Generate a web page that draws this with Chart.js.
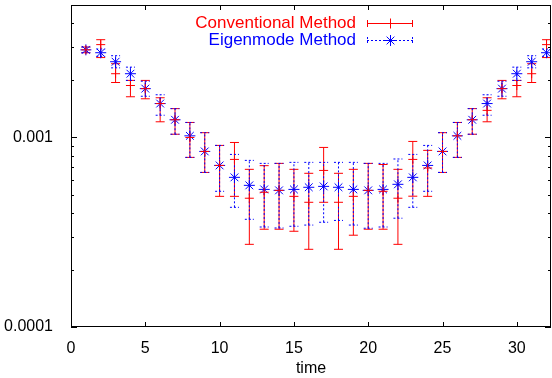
<!DOCTYPE html>
<html>
<head>
<meta charset="utf-8">
<script src="https://cdn.jsdelivr.net/npm/chart.js@4"></script>
<style>
html, body { margin: 0; padding: 0; background: #fff; }
#wrap { width: 552px; height: 378px; }
</style>
</head>
<body>
<div id="wrap"><canvas id="moncanvas"></canvas></div>
<script>
const times = [1,2,3,4,5,6,7,8,9,10,11,12,13,14,15,16,17,18,19,20,21,22,23,24,25,26,27,28,29,30,31,32];

const convVal = [0.00290,0.00309,0.00217,0.00188,0.00181,0.00151,0.00124,0.00100,0.000844,0.000712,0.000766,0.000478,0.000514,0.000526,0.000489,0.000455,0.000670,0.000455,0.000489,0.000526,0.000520,0.000478,0.000766,0.000690,0.000844,0.00102,0.00124,0.00139,0.00181,0.00188,0.00217,0.00309];
const convLo = [0.00280,0.00264,0.00195,0.00164,0.00160,0.00121,0.00104,0.000785,0.000654,0.000489,0.000489,0.000273,0.000328,0.000328,0.000320,0.000257,0.000455,0.000257,0.000305,0.000328,0.000328,0.000273,0.000490,0.000489,0.000654,0.000785,0.00104,0.00121,0.00160,0.00164,0.00195,0.00264];
const convHi = [0.00300,0.00328,0.00245,0.00200,0.00200,0.00162,0.00142,0.00120,0.00106,0.000908,0.000941,0.000679,0.000710,0.000730,0.000679,0.000647,0.000886,0.000647,0.000679,0.000730,0.000720,0.000679,0.000953,0.000855,0.00106,0.00120,0.00142,0.00162,0.00200,0.00200,0.00245,0.00328];

const eigVal = [0.00290,0.00280,0.00251,0.00217,0.00181,0.00151,0.00124,0.00102,0.000844,0.000712,0.000616,0.000559,0.000532,0.000526,0.000532,0.000546,0.000552,0.000546,0.000532,0.000526,0.000532,0.000566,0.000616,0.000712,0.000844,0.00102,0.00124,0.00151,0.00181,0.00217,0.00251,0.00280];
const eigLo = [0.00280,0.00268,0.00233,0.00200,0.00165,0.00131,0.00104,0.000785,0.000654,0.000520,0.000428,0.000370,0.000337,0.000333,0.000340,0.000345,0.000357,0.000365,0.000345,0.000332,0.000337,0.000375,0.000428,0.000520,0.000654,0.000785,0.00104,0.00131,0.00165,0.00200,0.00233,0.00268];
const eigHi = [0.00300,0.00293,0.00270,0.00235,0.00198,0.00168,0.00142,0.00120,0.00106,0.000908,0.000814,0.000757,0.000730,0.000730,0.000739,0.000739,0.000739,0.000739,0.000739,0.000730,0.000730,0.000770,0.000814,0.000908,0.00106,0.00120,0.00142,0.00168,0.00198,0.00235,0.00270,0.00293];

const xTicks = [0,5,10,15,20,25,30];
const yTicks = [0.0001,0.001];
const yMinor = [0.0002,0.0003,0.0004,0.0005,0.0006,0.0007,0.0008,0.0009,0.002,0.003,0.004,0.005];

const labelConv = 'Conventional Method';
const labelEig = 'Eigenmode Method';

const police = '"Liberation Sans", Arial, sans-serif';

function pts(vals) {
    return times.map(function (t, i) { return { x: t, y: vals[i] }; });
}

function noPad(scale) {
    scale.paddingTop = 0;
    scale.paddingBottom = 0;
    scale.paddingLeft = 0;
    scale.paddingRight = 0;
}

// error bars, drawn with the chart's own scales
const errorBars = {
    id: 'errorBars',
    beforeDatasetsDraw(chart) {
        const ctx = chart.ctx;
        const xs = chart.scales.x, ys = chart.scales.y;
        const sets = [
            { lo: convLo, hi: convHi, color: 'rgb(255,0,0)', dash: [] },
            { lo: eigLo, hi: eigHi, color: 'rgb(0,0,255)', dash: [2, 2] }
        ];
        ctx.save();
        ctx.lineWidth = 1;
        for (const s of sets) {
            ctx.strokeStyle = s.color;
            ctx.setLineDash(s.dash);
            for (let i = 0; i < times.length; i++) {
                const px = xs.getPixelForValue(times[i]);
                const p1 = ys.getPixelForValue(s.lo[i]);
                const p2 = ys.getPixelForValue(s.hi[i]);
                ctx.beginPath();
                ctx.moveTo(px, p1); ctx.lineTo(px, p2);
                ctx.moveTo(px - 4.5, p1); ctx.lineTo(px + 4.5, p1);
                ctx.moveTo(px - 4.5, p2); ctx.lineTo(px + 4.5, p2);
                ctx.stroke();
            }
        }
        ctx.restore();
    }
};

// gnuplot style frame with inward ticks, and the key
const cadre = {
    id: 'cadre',
    afterDraw(chart) {
        const ctx = chart.ctx;
        const a = chart.chartArea;
        const xs = chart.scales.x, ys = chart.scales.y;
        ctx.save();
        ctx.strokeStyle = '#000';
        ctx.lineWidth = 1;
        ctx.setLineDash([]);
        ctx.strokeRect(a.left + 0.5, a.top + 0.5, a.right - a.left - 1, a.bottom - a.top - 1);
        ctx.beginPath();
        for (const v of xTicks) {
            const px = Math.round(xs.getPixelForValue(v)) + 0.5;
            ctx.moveTo(px, a.bottom); ctx.lineTo(px, a.bottom - 5);
            ctx.moveTo(px, a.top); ctx.lineTo(px, a.top + 5);
        }
        for (const v of yTicks) {
            const py = Math.round(ys.getPixelForValue(v)) + 0.5;
            ctx.moveTo(a.left, py); ctx.lineTo(a.left + 6, py);
            ctx.moveTo(a.right, py); ctx.lineTo(a.right - 6, py);
        }
        for (const v of yMinor) {
            const py = Math.round(ys.getPixelForValue(v)) + 0.5;
            ctx.moveTo(a.left, py); ctx.lineTo(a.left + 3, py);
            ctx.moveTo(a.right, py); ctx.lineTo(a.right - 3, py);
        }
        ctx.stroke();

        // key
        ctx.font = '17px ' + police;
        ctx.textAlign = 'right';
        ctx.textBaseline = 'middle';
        ctx.fillStyle = 'rgb(255,0,0)';
        ctx.fillText(labelConv, 356, 23);
        ctx.fillStyle = 'rgb(0,0,255)';
        ctx.fillText(labelEig, 356, 40);

        ctx.strokeStyle = 'rgb(255,0,0)';
        ctx.beginPath();
        ctx.moveTo(367, 23.5); ctx.lineTo(413, 23.5);
        ctx.moveTo(367.5, 20); ctx.lineTo(367.5, 27);
        ctx.moveTo(412.5, 20); ctx.lineTo(412.5, 27);
        ctx.moveTo(390.5, 18.5); ctx.lineTo(390.5, 28.5);
        ctx.stroke();

        ctx.strokeStyle = 'rgb(0,0,255)';
        ctx.setLineDash([2, 2]);
        ctx.beginPath();
        ctx.moveTo(367, 40.5); ctx.lineTo(413, 40.5);
        ctx.moveTo(367.5, 37); ctx.lineTo(367.5, 44);
        ctx.moveTo(412.5, 37); ctx.lineTo(412.5, 44);
        ctx.stroke();
        ctx.setLineDash([]);
        ctx.beginPath();
        const r = 5.5;
        ctx.moveTo(390.5 - r, 40.5); ctx.lineTo(390.5 + r, 40.5);
        ctx.moveTo(390.5, 40.5 - r); ctx.lineTo(390.5, 40.5 + r);
        const d = r * Math.SQRT1_2;
        ctx.moveTo(390.5 - d, 40.5 - d); ctx.lineTo(390.5 + d, 40.5 + d);
        ctx.moveTo(390.5 - d, 40.5 + d); ctx.lineTo(390.5 + d, 40.5 - d);
        ctx.stroke();
        ctx.restore();
    }
};

const data = {
    datasets: [{
        label: labelConv,
        data: pts(convVal),
        showLine: false,
        pointStyle: 'cross',
        pointRadius: 4.5,
        pointHoverRadius: 4.5,
        borderColor: 'rgb(255,0,0)',
        backgroundColor: 'rgb(255,0,0)',
        borderWidth: 1
    }, {
        label: labelEig,
        data: pts(eigVal),
        showLine: false,
        pointStyle: 'star',
        pointRadius: 5.5,
        pointHoverRadius: 5.5,
        borderColor: 'rgb(0,0,255)',
        backgroundColor: 'rgb(0,0,255)',
        borderWidth: 1
    }]
};

const config = {
    type: 'scatter',
    data: data,
    plugins: [errorBars, cadre],
    options: {
        responsive: true,
        maintainAspectRatio: false,
        animation: false,
        events: [],
        layout: { autoPadding: false, padding: { left: 0, right: 1, top: 5, bottom: 0 } },
        plugins: {
            legend: { display: false },
            tooltip: { enabled: false }
        },
        scales: {
            x: {
                type: 'linear',
                min: 0,
                max: 32.3,
                afterBuildTicks: function (scale) {
                    scale.ticks = xTicks.map(function (v) { return { value: v }; });
                },
                afterFit: function (scale) { scale.height = 51; noPad(scale); },
                grid: { display: false },
                border: { display: false },
                ticks: {
                    padding: 4,
                    color: '#000',
                    maxRotation: 0,
                    font: { family: police, size: 16 }
                },
                title: {
                    display: true,
                    text: 'time',
                    color: '#000',
                    padding: 0,
                    font: { family: police, size: 16 }
                }
            },
            y: {
                type: 'logarithmic',
                min: 0.0001,
                max: 0.005,
                afterBuildTicks: function (scale) {
                    scale.ticks = yTicks.map(function (v) { return { value: v }; });
                },
                afterFit: function (scale) { scale.width = 71; noPad(scale); },
                grid: { display: false },
                border: { display: false },
                ticks: {
                    padding: 10,
                    color: '#000',
                    font: { family: police, size: 16 },
                    callback: function (v) { return String(v); }
                }
            }
        }
    }
};

const myChart = new Chart(document.querySelector('#moncanvas'), config);
</script>
</body>
</html>
